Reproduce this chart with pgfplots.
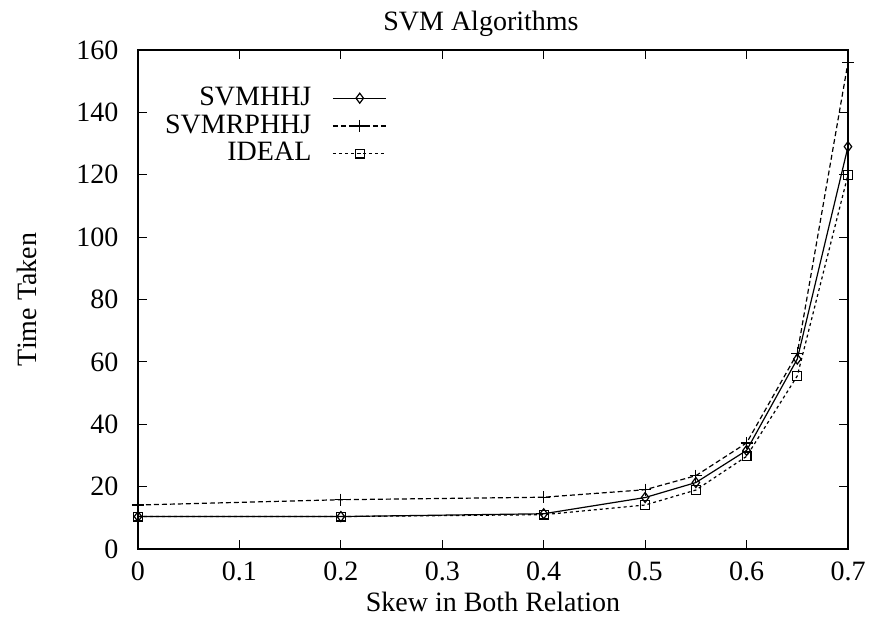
\documentclass[border=0pt]{standalone}
\usepackage{fontspec}
\setmainfont{Liberation Serif}
\usepackage{pgfplots}
\pgfplotsset{compat=1.18}

\begin{document}
\fontsize{14}{16}\selectfont
\begin{tikzpicture}
\begin{axis}[
    name=ax,
    scale only axis,
    width=355pt, height=249.5pt,
    xmin=0, xmax=0.7,
    ymin=0, ymax=160,
    xtick={0,0.1,...,0.7},
    ytick={0,20,...,160},
    minor tick num=0,
    tick align=inside,
    major tick length=4.5pt,
    /pgf/number format/assume math mode=true,
    xticklabel style={/pgf/number format/fixed, yshift=-1.5pt},
    yticklabel style={xshift=-5pt},
    title={SVM Algorithms},
    xlabel={Skew in Both Relation},
    ylabel={Time Taken},
    xlabel style={yshift=4pt},
    ylabel style={at={(axis description cs:0,0.5)}, anchor=south, inner sep=0pt, yshift=50.5pt},
    title style={yshift=-4pt, xshift=-6pt},
    axis line style={line width=0.8pt},
    every tick/.style={line width=0.6pt},
    legend plot pos=right,
    legend cell align=right,
    legend style={draw=none, fill=none, at={(rel axis cs:0.032,0.935)}, anchor=north west,
        inner sep=0pt, row sep=-1.5pt, column sep=8.5pt, font=\fontsize{14}{16}\selectfont},
    legend image code/.code={
        \draw[mark repeat=2, mark phase=2] plot coordinates {(0cm,0cm) (0.47cm,0cm) (0.94cm,0cm)};
    },
]
% SVMHHJ
\addplot[black, line width=0.6pt, mark=diamond, mark size=2.5pt, mark options={solid, fill=white}] coordinates {
    (0,10.4) (0.2,10.4) (0.4,11.3) (0.5,16.5) (0.55,21.3) (0.6,31.6) (0.65,60.9) (0.7,129)
};
\addlegendentry{SVMHHJ}
% SVMRPHHJ
\addplot[black, line width=0.6pt, dash pattern=on 2.5pt off 1.5pt, mark=+, mark size=3pt, mark options={solid}] coordinates {
    (0,14.1) (0.2,15.8) (0.4,16.6) (0.5,19.0) (0.55,23.5) (0.6,34.0) (0.65,62.7) (0.7,156)
};
\addlegendentry{SVMRPHHJ}
% IDEAL
\addplot[black, line width=0.6pt, dash pattern=on 1.5pt off 1.5pt, mark=square, mark size=2.2pt, mark options={solid, fill=white}] coordinates {
    (0,10.4) (0.2,10.4) (0.4,11.0) (0.5,14.1) (0.55,18.9) (0.6,29.7) (0.65,55.5) (0.7,120)
};
\addlegendentry{IDEAL}
\end{axis}
\pgfresetboundingbox
\path[use as bounding box] ([shift={(-69pt,-37.5pt)}]ax.south west) rectangle ([shift={(10.5pt,25pt)}]ax.north east);
\end{tikzpicture}
\end{document}
